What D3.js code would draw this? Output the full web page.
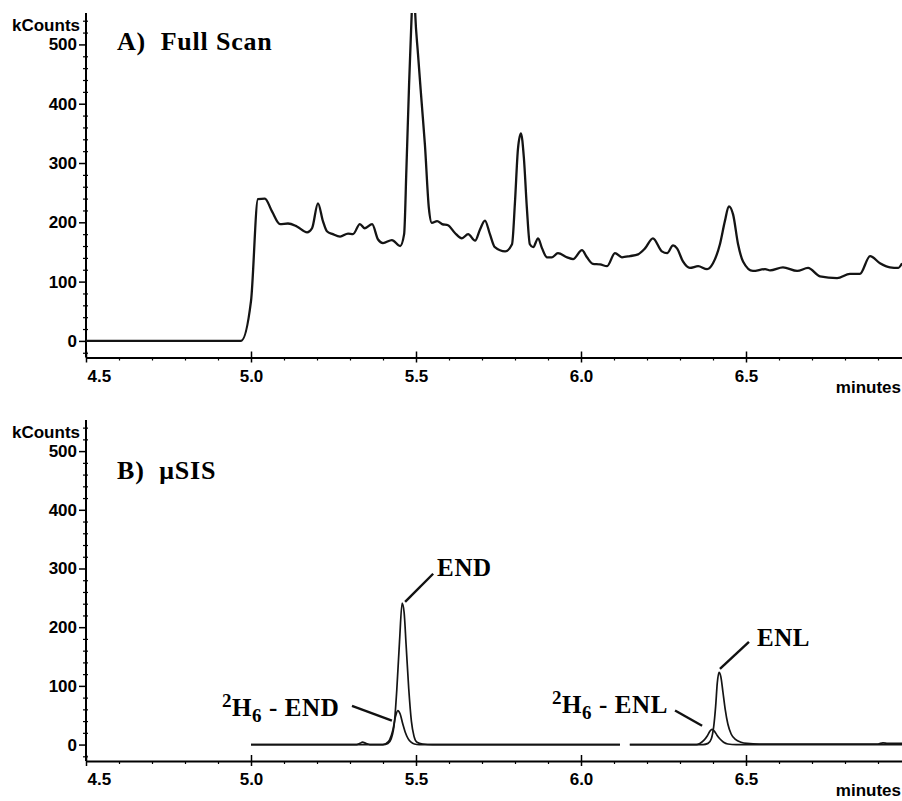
<!DOCTYPE html>
<html>
<head>
<meta charset="utf-8">
<script src="https://cdn.jsdelivr.net/npm/d3@7"></script>
<style>
  body { margin: 0; background: #fff; }
  .tick text { font-family: "Liberation Sans", Arial, sans-serif; font-weight: bold; font-size: 17px; }
  .serif { font-family: "Liberation Serif", "Times New Roman", serif; font-weight: bold; }
</style>
</head>
<body>
<svg id="chart" width="902" height="801"></svg>
<script>
// ---- data (minutes, kCounts) ----
const scanTime = [4.5, 4.97, 5.0, 5.021, 5.042, 5.064, 5.088, 5.112, 5.139, 5.17, 5.185, 5.203, 5.218, 5.23,
  5.248, 5.27, 5.294, 5.309, 5.33, 5.345, 5.367, 5.385, 5.4, 5.427, 5.452, 5.464, 5.471, 5.479, 5.487, 5.4925,
  5.497, 5.506, 5.517, 5.527, 5.539, 5.548, 5.564, 5.579, 5.597, 5.618, 5.639, 5.658, 5.679, 5.694, 5.709,
  5.724, 5.739, 5.77, 5.791, 5.8, 5.809, 5.818, 5.827, 5.836, 5.845, 5.855, 5.87, 5.882, 5.897, 5.912, 5.93,
  5.958, 5.976, 6.003, 6.018, 6.036, 6.058, 6.079, 6.103, 6.124, 6.148, 6.173, 6.194, 6.218, 6.245, 6.261,
  6.279, 6.291, 6.309, 6.33, 6.355, 6.382, 6.4, 6.421, 6.436, 6.448, 6.461, 6.476, 6.491, 6.521, 6.558,
  6.573, 6.612, 6.655, 6.688, 6.724, 6.776, 6.815, 6.845, 6.876, 6.906, 6.936, 6.961, 6.973];
const scanCounts = [0, 0, 67, 239, 240, 218, 197, 198, 193, 183, 190, 232, 202, 185,
  180, 176, 181, 180, 197, 190, 197, 171, 165, 170, 160, 180, 291, 432, 552, 640,
  560, 484, 403, 331, 224, 199, 202, 197, 195, 182, 173, 180, 169, 188, 203,
  180, 158, 151, 163, 235, 324, 350, 308, 224, 163, 158, 173, 156, 141, 141, 148,
  141, 138, 153, 141, 130, 129, 126, 148, 141, 143, 146, 156, 173, 151, 148,
  161, 156, 134, 123, 126, 121, 131, 163, 202, 227, 213, 163, 134, 118, 121,
  119, 124, 118, 123, 109, 106, 113, 113, 143, 131, 124, 123, 131];

// µSIS segment 1: END and 2H6-END
const endTime   = [5.0, 5.32, 5.33, 5.338, 5.348, 5.36, 5.4, 5.415, 5.425, 5.435, 5.442, 5.45, 5.458, 5.464,
  5.47, 5.478, 5.486, 5.494, 5.503, 5.52, 5.55, 6.118];
const endCounts = [0, 0, 2, 4, 2, 0, 0, 2, 10, 40, 95, 175, 241, 225, 170, 95, 40, 14, 4, 1, 0, 0];
const endD6Time   = [5.0, 5.4, 5.41, 5.42, 5.43, 5.438, 5.445, 5.452, 5.46, 5.468, 5.476, 5.485, 5.495, 5.51, 6.118];
const endD6Counts = [0, 0, 2, 8, 25, 48, 58, 52, 35, 20, 10, 4, 1, 0, 0];

// µSIS segment 2: ENL and 2H6-ENL
const enlTime   = [6.148, 6.37, 6.385, 6.395, 6.402, 6.408, 6.413, 6.418, 6.424, 6.43, 6.437, 6.445, 6.455,
  6.468, 6.485, 6.503, 6.54, 6.9, 6.915, 6.93, 6.973];
const enlCounts = [0, 0, 2, 10, 30, 65, 105, 123, 115, 90, 60, 35, 18, 9, 4, 2, 1, 1, 3, 2, 2];
const enlD6Time   = [6.148, 6.35, 6.36, 6.372, 6.383, 6.391, 6.397, 6.404, 6.412, 6.422, 6.432, 6.445, 6.47, 6.973];
const enlD6Counts = [0, 0, 2, 7, 15, 23, 26, 23, 16, 9, 4, 1, 0, 0];

const xMajor = [4.5, 5.0, 5.5, 6.0, 6.5];
const yMajor = [0, 100, 200, 300, 400, 500];

// label text, where it sits, and where its leader line points (minutes, kCounts)
const notes = [
  { main: "END", sup: null, sub: null, t: 5.564, v: 287, from: [5.552, 291], to: [5.467, 243] },
  { main: " - END", sup: "2", sub: "6", t: 4.912, v: 49, from: [5.306, 66], to: [5.427, 41] },
  { main: "ENL", sup: null, sub: null, t: 6.533, v: 168, from: [6.509, 175], to: [6.421, 129] },
  { main: " - ENL", sup: "2", sub: "6", t: 5.912, v: 53, from: [6.285, 58], to: [6.367, 32] }
];

// ---- layout ----
const svg = d3.select("#chart");
const x = d3.scaleLinear().domain([4.5, 4.5 + 816 / 330]).range([86, 902]);
const xMinor = d3.range(4.6, 6.96, 0.1).filter(t => !xMajor.some(m => Math.abs(m - t) < 1e-6));
const yMinor = d3.range(-20, 550, 20).filter(v => v % 100 !== 0);

const panels = [
  { top: 13, axisY: 357.5, title: "A)  Full Scan", titleBase: 50 },
  { top: 420, axisY: 761, title: "B)  \u03bcSIS", titleBase: 479 }
];

function drawPanel(p, i) {
  const y = d3.scaleLinear().domain([-28, 553]).range([p.axisY, p.top]);
  const g = svg.append("g");

  g.append("clipPath").attr("id", "clip" + i)
    .append("rect").attr("x", 86).attr("y", p.top).attr("width", 816).attr("height", p.axisY - p.top);

  // y axis
  const ya = g.append("g").attr("transform", "translate(86,0)")
    .call(d3.axisLeft(y).tickValues(yMajor).tickSize(7).tickPadding(2).tickSizeOuter(0));
  ya.select(".domain").attr("d", `M0,${p.top}V${p.axisY}`).attr("stroke-width", 2);
  ya.selectAll(".tick line").attr("stroke-width", 1.5);
  g.append("g").attr("transform", "translate(86,0)")
    .call(d3.axisLeft(y).tickValues(yMinor).tickSize(3).tickFormat(""))
    .call(s => s.select(".domain").remove())
    .selectAll("line").attr("x2", -3).attr("x1", 2).attr("stroke-width", 1.2);

  g.append("text").attr("x", 80).attr("y", y(553) + 18)
    .attr("text-anchor", "end")
    .style("font", "bold 17px 'Liberation Sans', Arial, sans-serif")
    .text("kCounts");

  // x axis
  const xa = g.append("g").attr("transform", `translate(0,${p.axisY})`)
    .call(d3.axisBottom(x).tickValues(xMajor).tickFormat(d3.format(".1f")).tickSize(5).tickPadding(7).tickSizeOuter(0));
  xa.select(".domain").attr("stroke-width", 2);
  xa.selectAll(".tick line").attr("y1", -6).attr("stroke-width", 1.5);
  xa.selectAll(".tick text").filter(d => d === 4.5).attr("text-anchor", "start").attr("x", 1);
  g.append("g").attr("transform", `translate(0,${p.axisY})`)
    .call(d3.axisBottom(x).tickValues(xMinor).tickSize(3).tickFormat(""))
    .call(s => s.select(".domain").remove())
    .selectAll("line").attr("stroke-width", 1.2);

  g.append("text").attr("x", 901).attr("y", p.axisY + 35)
    .attr("text-anchor", "end")
    .style("font", "bold 17px 'Liberation Sans', Arial, sans-serif")
    .text("minutes");

  g.append("text").attr("class", "serif").attr("x", 117).attr("y", p.titleBase)
    .attr("font-size", 26).attr("letter-spacing", 0.8)
    .style("white-space", "pre").text(p.title);

  const line = d3.line().x(d => x(d[0])).y(d => y(d[1])).curve(d3.curveMonotoneX);
  return { g, y, line };
}

// Panel A
const A = drawPanel(panels[0], 0);
A.g.append("path")
  .datum(d3.zip(scanTime, scanCounts))
  .attr("clip-path", "url(#clip0)")
  .attr("fill", "none").attr("stroke", "#141414").attr("stroke-width", 2.3)
  .attr("stroke-linejoin", "round")
  .attr("d", A.line);

// Panel B
const B = drawPanel(panels[1], 1);
[[endTime, endCounts], [endD6Time, endD6Counts], [enlTime, enlCounts], [enlD6Time, enlD6Counts]]
  .forEach(([t, v]) => {
    B.g.append("path")
      .datum(d3.zip(t, v))
      .attr("clip-path", "url(#clip1)")
      .attr("fill", "none").attr("stroke", "#141414").attr("stroke-width", 1.7)
      .attr("d", B.line);
  });

notes.forEach(n => {
  B.g.append("line")
    .attr("x1", x(n.from[0])).attr("y1", B.y(n.from[1]))
    .attr("x2", x(n.to[0])).attr("y2", B.y(n.to[1]))
    .attr("stroke", "#111").attr("stroke-width", 2.4);
  const txt = B.g.append("text").attr("class", "serif")
    .attr("x", x(n.t)).attr("y", B.y(n.v))
    .attr("font-size", 25).attr("letter-spacing", 0.6).style("white-space", "pre");
  if (n.sup) {
    txt.append("tspan").attr("font-size", 19).attr("dy", -9).text(n.sup);
    txt.append("tspan").attr("dy", 9).text("H");
    txt.append("tspan").attr("font-size", 19).attr("dy", 6).text(n.sub);
    txt.append("tspan").attr("dy", -6).text(n.main);
  } else {
    txt.text(n.main);
  }
});
</script>
</body>
</html>
